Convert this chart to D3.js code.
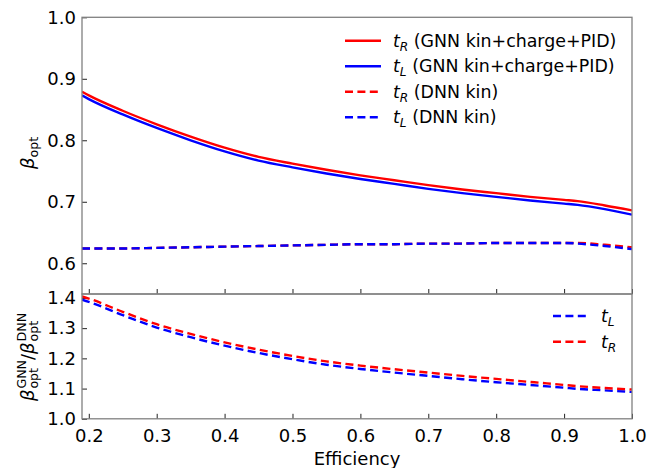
<!DOCTYPE html>
<html><head><meta charset="utf-8">
<script src="https://cdn.jsdelivr.net/npm/d3@7"></script>
<style>
body{margin:0;background:#fff;}
text{font-family:"DejaVu Sans",sans-serif;fill:#000;}
</style></head>
<body><svg id="c" width="656" height="468"></svg>
<script>
const efficiency = [0.19,0.2,0.25,0.3,0.35,0.4,0.45,0.5,0.55,0.6,0.65,0.7,0.75,0.8,0.85,0.9,0.92,0.96,1.0];
const tR_GNN = [0.879,0.873,0.848,0.826,0.806,0.788,0.773,0.762,0.752,0.743,0.735,0.727,0.720,0.714,0.708,0.703,0.701,0.694,0.686];
const tL_GNN = [0.873,0.867,0.842,0.820,0.800,0.782,0.767,0.756,0.746,0.737,0.729,0.721,0.714,0.708,0.702,0.697,0.695,0.688,0.679];
const tR_DNN = [0.624,0.624,0.624,0.625,0.626,0.627,0.628,0.629,0.630,0.631,0.631,0.632,0.632,0.633,0.633,0.633,0.633,0.630,0.626];
const tL_DNN = [0.624,0.624,0.624,0.625,0.626,0.627,0.628,0.629,0.630,0.631,0.631,0.632,0.632,0.633,0.633,0.633,0.632,0.628,0.623];
const ratio_tL = [1.394,1.387,1.343,1.302,1.270,1.242,1.218,1.197,1.179,1.165,1.153,1.142,1.131,1.121,1.112,1.103,1.099,1.094,1.089];
const ratio_tR = [1.405,1.398,1.354,1.313,1.281,1.253,1.229,1.208,1.190,1.176,1.164,1.153,1.142,1.132,1.122,1.112,1.108,1.102,1.097];
const xTicks = [0.2,0.3,0.4,0.5,0.6,0.7,0.8,0.9,1.0];
const topYTicks = [0.6,0.7,0.8,0.9,1.0];
const botYTicks = [1.0,1.1,1.2,1.3,1.4];

const svg = d3.select("#c");
const L=82, R=632, T=17.3, M=294, B=418.8;
const x = d3.scaleLinear().domain([0.19,1.0]).range([L,R]);
const yTop = d3.scaleLinear().domain([0.55,1.0]).range([M,T]);
const yBot = d3.scaleLinear().domain([1.0,1.413]).range([B,M]);
const FS = 18, LFS = 17.4;
const spine = "#808080";

function styleAxis(g){
  g.select(".domain").remove();
  g.selectAll(".tick line").attr("stroke","#222").attr("stroke-width",1);
  g.selectAll(".tick text").style("font-family","DejaVu Sans").style("font-size",FS+"px").attr("fill","#000");
}
svg.append("g").attr("transform",`translate(${L},0)`)
  .call(d3.axisLeft(yTop).tickValues(topYTicks).tickFormat(d3.format(".1f")).tickSizeInner(-5).tickPadding(6))
  .call(styleAxis);
svg.append("g").attr("transform",`translate(0,${M})`)
  .call(d3.axisBottom(x).tickValues(xTicks).tickFormat("").tickSizeInner(-5).tickSizeOuter(0))
  .call(styleAxis);
svg.append("g").attr("transform",`translate(${L},0)`)
  .call(d3.axisLeft(yBot).tickValues(botYTicks).tickFormat(d3.format(".1f")).tickSizeInner(-5).tickPadding(6))
  .call(styleAxis);
svg.append("g").attr("transform",`translate(0,${B})`)
  .call(d3.axisBottom(x).tickValues(xTicks).tickFormat(d3.format(".1f")).tickSizeInner(-5).tickPadding(10))
  .call(styleAxis);

const defs = svg.append("defs");
defs.append("clipPath").attr("id","clipTop").append("rect").attr("x",L).attr("y",T).attr("width",R-L).attr("height",M-T);
defs.append("clipPath").attr("id","clipBot").append("rect").attr("x",L).attr("y",M).attr("width",R-L).attr("height",B-M);

const lw = 2.4, dash = "8,4.4";
function drawLine(g, ys, yScale, color, dashed){
  const line = d3.line().x((d,i)=>x(efficiency[i])).y(d=>yScale(d)).curve(d3.curveMonotoneX);
  g.append("path").datum(ys).attr("d",line).attr("fill","none").attr("stroke",color)
   .attr("stroke-width",lw).attr("stroke-dasharray",dashed?dash:null);
}
const gTop = svg.append("g").attr("clip-path","url(#clipTop)");
drawLine(gTop, tR_GNN, yTop, "#ff0000", false);
drawLine(gTop, tL_GNN, yTop, "#0000ff", false);
drawLine(gTop, tR_DNN, yTop, "#ff0000", true);
drawLine(gTop, tL_DNN, yTop, "#0000ff", true);
const gBot = svg.append("g").attr("clip-path","url(#clipBot)");
drawLine(gBot, ratio_tL, yBot, "#0000ff", true);
drawLine(gBot, ratio_tR, yBot, "#ff0000", true);

svg.append("rect").attr("x",L).attr("y",T).attr("width",R-L).attr("height",M-T).attr("fill","none").attr("stroke",spine).attr("stroke-width",1.3);
svg.append("rect").attr("x",L).attr("y",M).attr("width",R-L).attr("height",B-M).attr("fill","none").attr("stroke",spine).attr("stroke-width",1.3);

function legendLabel(g, xx, yy, sub, rest){
  const t = g.append("text").attr("x",xx).attr("y",yy).style("font-size",LFS+"px");
  t.append("tspan").text("t").style("font-style","italic");
  t.append("tspan").text(sub).style("font-style","italic").style("font-size",(LFS*0.7)+"px").attr("dy",4);
  if(rest) t.append("tspan").text(rest).attr("dy",-4);
}
const topLeg = [
  {c:"#ff0000",d:false,s:"R",r:" (GNN kin+charge+PID)"},
  {c:"#0000ff",d:false,s:"L",r:" (GNN kin+charge+PID)"},
  {c:"#ff0000",d:true,s:"R",r:" (DNN kin)"},
  {c:"#0000ff",d:true,s:"L",r:" (DNN kin)"}
];
topLeg.forEach((e,i)=>{
  const yy = 40.7 + i*25.5;
  svg.append("line").attr("x1",345).attr("x2",381).attr("y1",yy).attr("y2",yy)
    .attr("stroke",e.c).attr("stroke-width",lw).attr("stroke-dasharray",e.d?dash:null);
  legendLabel(svg, 393, yy+6, e.s, e.r);
});
const botLeg = [{c:"#0000ff",s:"L"},{c:"#ff0000",s:"R"}];
botLeg.forEach((e,i)=>{
  const yy = 316 + i*25.7;
  svg.append("line").attr("x1",553).attr("x2",588).attr("y1",yy).attr("y2",yy)
    .attr("stroke",e.c).attr("stroke-width",lw).attr("stroke-dasharray",dash);
  legendLabel(svg, 601, yy+6, e.s, null);
});

svg.append("text").attr("x",357).attr("y",465).attr("text-anchor","middle").style("font-size",FS+"px").text("Efficiency");

const yl = svg.append("text").attr("transform","translate(34,153) rotate(-90)").attr("text-anchor","middle").style("font-size",FS+"px");
yl.append("tspan").text("β").style("font-style","italic");
yl.append("tspan").text("opt").style("font-size",(FS*0.7)+"px").attr("dy",4);

const rg = svg.append("g").attr("transform","translate(34,357) rotate(-90)");
const sfs = FS*0.7;
let cx = 0;
function addText(txt, dy, size, italic){
  return rg.append("text").attr("x",cx).attr("y",dy).style("font-size",size+"px").style("font-style",italic?"italic":"normal").text(txt);
}
const b1 = addText("β",0,FS,true); cx += b1.node().getComputedTextLength()+1;
const sup1 = addText("GNN",-8,sfs,false); const sub1 = addText("opt",4,sfs,false);
cx += Math.max(sup1.node().getComputedTextLength(), sub1.node().getComputedTextLength());
const sl = addText("/",0,FS,false); cx += sl.node().getComputedTextLength();
const b2 = addText("β",0,FS,true); cx += b2.node().getComputedTextLength()+1;
const sup2 = addText("DNN",-8,sfs,false); const sub2 = addText("opt",4,sfs,false);
cx += Math.max(sup2.node().getComputedTextLength(), sub2.node().getComputedTextLength());
rg.selectAll("text").attr("transform",`translate(${-cx/2},0)`);
</script></body></html>
